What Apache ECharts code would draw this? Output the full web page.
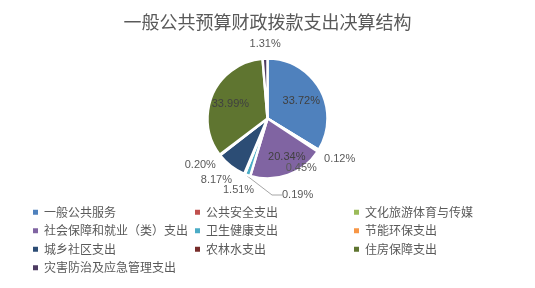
<!DOCTYPE html>
<html><head><meta charset="utf-8">
<script src="https://cdn.jsdelivr.net/npm/echarts@6/dist/echarts.min.js"></script>
<style>html,body{margin:0;padding:0;background:#fff}#c{width:535px;height:288px}</style>
</head><body><div id="c"></div>
<script>
const categories = ['一般公共服务','公共安全支出','文化旅游体育与传媒','社会保障和就业（类）支出','卫生健康支出','节能环保支出','城乡社区支出','农林水支出','住房保障支出','灾害防治及应急管理支出'];
const values = [33.72, 0.12, 0.45, 20.34, 1.51, 0.19, 8.17, 0.20, 33.99, 1.31];
const colors = ['#4F81BD','#C0504D','#9BBB59','#8064A2','#4BACC6','#F79646','#2C4D75','#772C2A','#5F7530','#4D3B62'];

const legendCols = [[0,3,6,9],[1,4,7],[2,5,8]];
const legendLeft = [31, 193, 352];
// label nudges relative to default inside position
const nudge = {0:[5,-1],1:[44,23],2:[6,32],3:[8,7],4:[-18,40],6:[-31,35],7:[-41,26],8:[-7,-1],9:[-1,-42]};
const insideLabels = [0,3,8];
const txt = '#595959';
const chart = echarts.init(document.getElementById('c'));
chart.setOption({
  backgroundColor:'#fff',
  animation:false,
  color: colors,
  title:{text:'一般公共预算财政拨款支出决算结构', left:'center', top:8,
    textStyle:{fontFamily:'Noto Sans CJK SC', fontSize:18, fontWeight:'normal', color:txt, lineHeight:18}},
  legend: legendCols.map((col,k)=>({
    orient:'vertical', left:legendLeft[k], top:203, padding:0, itemGap:0,
    itemWidth:7, itemHeight:7, icon:'rect', selectedMode:false,
    data: col.map(i=>categories[i]),
    textStyle:{fontFamily:'Noto Sans CJK SC', fontSize:12, color:txt, lineHeight:18.5}
  })),
  series:[{
    type:'pie', center:[267.5,118.5], radius:60, startAngle:90, clockwise:true,
    avoidLabelOverlap:false,
    itemStyle:{borderColor:'#fff', borderWidth:2.5},
    label:{position:'inside', formatter: p=>p.value.toFixed(2)+'%', color:txt,
      fontFamily:'Liberation Sans', fontSize:11, textBorderWidth:0, textBorderColor:'transparent', textShadowBlur:0},
    labelLine:{show:false},
    labelLayout: p=>{
      const i = p.dataIndex;
      if (i===5) return {x:282, y:195, align:'left', verticalAlign:'middle'};
      const n = nudge[i]||[0,0];
      return {dx:n[0], dy:n[1]};
    },
    data: values.map((v,i)=>{
      const d = {name:categories[i], value:v};
      if (insideLabels.includes(i)) d.label={color:'#404040'};
      if (i===5) { d.label={position:'outside'}; d.labelLine={show:true, length:10, length2:10, lineStyle:{color:'#A6A6A6', width:1}}; }
      return d;
    })
  }]
});
</script></body></html>
